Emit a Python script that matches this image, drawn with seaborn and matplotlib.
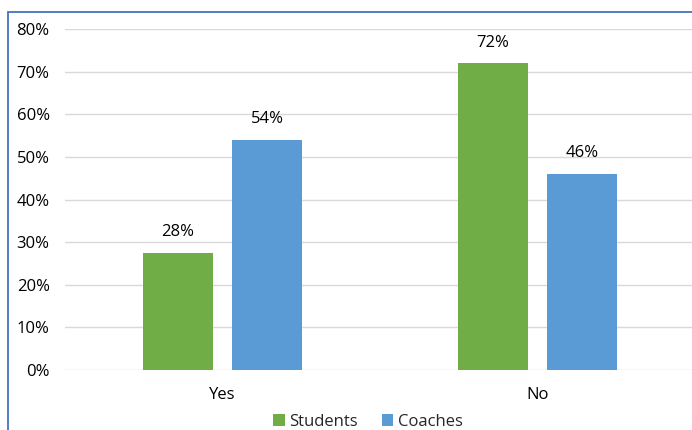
import matplotlib
matplotlib.use("Agg")
import matplotlib.pyplot as plt
import seaborn as sns
import pandas as pd
from matplotlib.patches import Rectangle
from matplotlib.ticker import FuncFormatter

categories = ["Yes", "No"]
groups = ["Students", "Coaches"]
students = [27.5, 72]
coaches = [54, 46]
colors = ["#70AD47", "#5B9BD5"]

df = pd.DataFrame({
    "answer": categories * 2,
    "group": [groups[0]] * len(categories) + [groups[1]] * len(categories),
    "value": students + coaches,
})

sns.set_theme(style="white")
plt.rcParams["font.family"] = ["Open Sans", "DejaVu Sans"]

fig = plt.figure(figsize=(6.92, 4.30), dpi=100)
ax = fig.add_axes([65 / 692, 60 / 430, 630 / 692, (401 - 60) / 430])

sns.barplot(data=df, x="answer", y="value", hue="group", order=categories,
            hue_order=groups, palette=colors, width=0.571, gap=0.222,
            saturation=1, linewidth=0, ax=ax, legend=True)

ax.set_xlim(-0.5, 1.5)
ax.set_ylim(0, 80)
ax.set_yticks(range(0, 81, 10))
ax.yaxis.set_major_formatter(FuncFormatter(lambda v, p: f"{v:.0f}%"))
ax.grid(axis="y", color="#d9d9d9", linewidth=1)
ax.set_axisbelow(True)
for s in ax.spines.values():
    s.set_visible(False)
ax.tick_params(axis="y", length=0, pad=11, labelsize=12, labelcolor="#000000")
ax.tick_params(axis="x", length=0, pad=12, labelsize=12, labelcolor="#000000")
ax.set_xlabel("")
ax.set_ylabel("")

for c in ax.containers:
    ax.bar_label(c, labels=[f"{b.get_height():.0f}%" for b in c], padding=9,
                 fontsize=12, color="#000000")

leg = ax.legend(loc="center", bbox_to_anchor=(368 / 692, 1 - 422 / 430),
                bbox_transform=fig.transFigure, ncol=2, frameon=False,
                handlelength=0.7, handleheight=0.7, handletextpad=0.3,
                columnspacing=1.4, fontsize=12)

fig.patches.append(Rectangle((8 / 692, -0.1), 1.2, (430 - 12) / 430 + 0.1,
                             transform=fig.transFigure, fill=False,
                             edgecolor="#4472C4", linewidth=1.3))

fig.savefig("out.png", dpi=100)
